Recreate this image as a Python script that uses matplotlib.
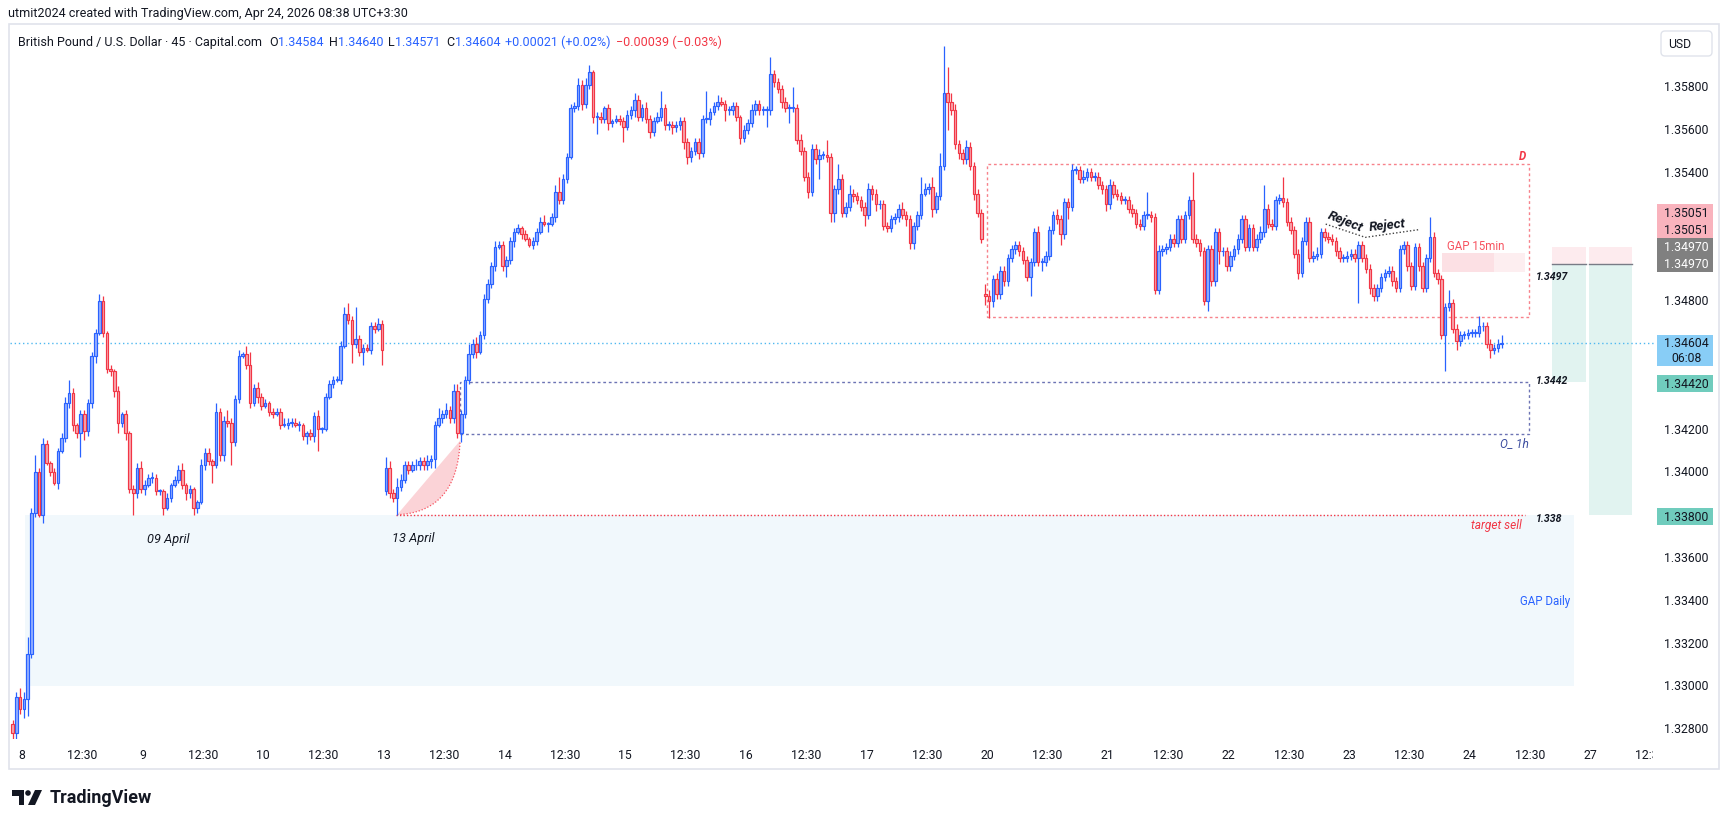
import numpy as np
import matplotlib
matplotlib.use("Agg")
import matplotlib.pyplot as plt
from matplotlib.patches import Rectangle, Polygon, Circle, FancyBboxPatch
from matplotlib.transforms import Affine2D, blended_transform_factory, Bbox, TransformedBbox

plt.rcParams['font.family'] = ['Roboto', 'DejaVu Sans']

W, H = 1728, 829

# GBP/USD 45 min bars (Apr 7 late -> Apr 24 morning)
# closes in pips above 1.3000, open = previous close except after gaps
closes = [
    278, 295, 289, 294, 315, 381, 400, 380, 413, 404,
    400, 395, 410, 416, 432, 437, 422, 418, 427, 419,
    432, 454, 465, 480, 465, 448, 447, 438, 423, 427,
    418, 392, 390, 402, 392, 394, 397, 397, 391, 391,
    383, 388, 394, 396, 401, 394, 390, 392, 383, 386,
    403, 409, 405, 403, 428, 408, 424, 423, 414, 434,
    454, 455, 450, 432, 439, 435, 431, 432, 428, 427,
    428, 422, 422, 423, 423, 422, 422, 417, 418, 417,
    426, 420, 420, 435, 441, 443, 443, 459, 474, 471,
    460, 462, 456, 458, 457, 468, 467, 469, 457, 402,
    390, 388, 393, 396, 403, 401, 403, 403, 405, 403,
    405, 406, 422, 425, 427, 429, 425, 438, 418, 427,
    443, 455, 460, 456, 464, 481, 488, 496, 505, 506,
    496, 499, 508, 512, 514, 511, 509, 506, 508, 512,
    517, 516, 516, 519, 531, 527, 537, 547, 570, 571,
    581, 572, 581, 587, 566, 566, 565, 570, 563, 564,
    565, 564, 561, 567, 569, 574, 566, 570, 565, 559,
    564, 566, 570, 562, 562, 561, 562, 564, 554, 547,
    550, 554, 549, 565, 565, 568, 571, 573, 572, 569,
    569, 571, 566, 556, 560, 563, 569, 572, 569, 569,
    569, 586, 582, 579, 573, 570, 570, 570, 555, 550,
    538, 531, 551, 546, 548, 548, 547, 521, 532, 537,
    521, 524, 530, 529, 527, 524, 520, 532, 530, 525,
    525, 515, 514, 518, 519, 523, 520, 518, 507, 515,
    520, 530, 532, 533, 523, 529, 543, 577, 573, 569,
    553, 549, 546, 552, 543, 530, 521, 509, 482, 480,
    490, 483, 494, 489, 500, 504, 506, 503, 499, 491,
    498, 512, 498, 498, 501, 513, 520, 518, 511, 526,
    524, 541, 541, 537, 538, 540, 538, 538, 534, 532,
    525, 534, 530, 529, 527, 527, 523, 521, 516, 515,
    520, 520, 519, 485, 503, 504, 505, 509, 507, 518,
    509, 520, 527, 509, 507, 503, 480, 504, 489, 512,
    503, 503, 496, 501, 504, 509, 518, 505, 514, 505,
    509, 512, 523, 516, 515, 527, 528, 526, 517, 513,
    502, 493, 508, 517, 500, 501, 502, 512, 510, 509,
    508, 503, 500, 500, 501, 502, 500, 506, 500, 495,
    486, 482, 486, 491, 493, 494, 489, 486, 504, 506,
    496, 487, 505, 496, 486, 500, 510, 493, 490, 464,
    477, 479, 467, 461, 464, 464, 465, 465, 465, 468,
    468, 460, 457, 458, 460, 460,
]
upper_wick = [
    2, 2, 4, 3, 8, 2, 8, 2, 3, 2,
    1, 2, 1, 2, 3, 6, 2, 1, 2, 2,
    2, 2, 2, 3, 2, 1, 2, 1, 2, 1,
    2, 1, 2, 2, 3, 2, 2, 3, 2, 1,
    1, 2, 1, 2, 2, 3, 1, 2, 1, 1,
    3, 2, 2, 1, 4, 2, 2, 5, 2, 2,
    3, 1, 4, 6, 2, 3, 2, 2, 1, 2,
    2, 2, 3, 2, 2, 2, 2, 1, 1, 2,
    2, 3, 1, 2, 2, 2, 2, 2, 3, 5,
    2, 15, 2, 2, 2, 2, 2, 3, 2, 5,
    3, 2, 4, 3, 2, 2, 2, 3, 2, 2,
    3, 2, 2, 5, 2, 3, 2, 3, 3, 2,
    2, 5, 2, 3, 2, 2, 2, 2, 3, 2,
    2, 2, 2, 2, 2, 1, 2, 1, 2, 2,
    2, 3, 1, 2, 3, 7, 2, 2, 2, 2,
    3, 2, 3, 3, 1, 2, 2, 1, 2, 1,
    2, 2, 2, 2, 2, 3, 2, 2, 3, 2,
    2, 2, 8, 2, 2, 2, 2, 2, 2, 2,
    2, 2, 2, 2, 13, 2, 2, 3, 2, 2,
    2, 2, 2, 1, 2, 2, 3, 2, 2, 2,
    2, 8, 2, 2, 2, 2, 2, 10, 2, 3,
    2, 2, 2, 2, 3, 2, 7, 2, 2, 7,
    2, 2, 4, 2, 2, 2, 2, 3, 2, 2,
    2, 2, 2, 2, 2, 2, 3, 2, 2, 2,
    2, 8, 3, 2, 5, 2, 6, 22, 12, 4,
    3, 2, 2, 3, 2, 2, 2, 2, 5, 3,
    2, 3, 2, 2, 2, 2, 2, 2, 2, 2,
    2, 2, 3, 2, 2, 2, 2, 3, 2, 2,
    2, 3, 2, 2, 3, 2, 2, 2, 2, 2,
    2, 3, 2, 2, 2, 2, 2, 2, 2, 2,
    2, 11, 2, 2, 3, 2, 2, 2, 2, 2,
    2, 2, 2, 13, 2, 2, 2, 2, 2, 2,
    2, 2, 2, 2, 2, 2, 2, 2, 2, 2,
    2, 3, 11, 2, 2, 2, 2, 10, 2, 2,
    2, 2, 2, 2, 2, 2, 3, 2, 2, 2,
    2, 2, 2, 2, 2, 2, 2, 2, 2, 2,
    2, 2, 2, 2, 2, 2, 2, 2, 2, 2,
    2, 2, 2, 2, 2, 2, 9, 2, 2, 2,
    2, 6, 2, 2, 2, 2, 2, 2, 2, 5,
    2, 2, 2, 2, 2, 4,
]
lower_wick = [
    4, 3, 2, 4, 8, 2, 2, 1, 4, 1,
    2, 1, 3, 1, 2, 2, 3, 2, 11, 4,
    2, 2, 3, 1, 2, 2, 2, 3, 5, 2,
    3, 2, 10, 2, 2, 3, 1, 2, 2, 2,
    3, 1, 2, 1, 1, 2, 3, 2, 3, 2,
    1, 2, 2, 8, 1, 3, 3, 2, 11, 2,
    2, 1, 2, 2, 1, 3, 2, 1, 2, 2,
    1, 2, 1, 2, 2, 1, 3, 2, 4, 2,
    3, 10, 2, 1, 1, 2, 1, 2, 1, 2,
    9, 2, 2, 6, 1, 2, 2, 1, 7, 2,
    2, 2, 8, 2, 1, 2, 1, 2, 2, 2,
    2, 3, 4, 1, 2, 2, 2, 2, 2, 4,
    2, 2, 2, 3, 1, 2, 2, 2, 2, 1,
    2, 5, 2, 3, 1, 2, 1, 1, 2, 2,
    1, 1, 4, 1, 2, 2, 2, 2, 1, 2,
    2, 3, 2, 2, 3, 8, 2, 2, 3, 2,
    1, 2, 7, 1, 2, 3, 2, 2, 2, 3,
    2, 1, 2, 2, 2, 3, 2, 2, 3, 3,
    2, 2, 3, 2, 2, 3, 1, 2, 1, 5,
    2, 2, 2, 3, 2, 2, 2, 2, 2, 2,
    8, 2, 2, 2, 3, 2, 7, 2, 2, 2,
    2, 3, 2, 2, 9, 2, 2, 4, 4, 2,
    2, 2, 2, 3, 2, 2, 5, 2, 3, 3,
    2, 2, 2, 2, 2, 2, 2, 3, 3, 3,
    2, 2, 1, 2, 4, 2, 2, 2, 13, 2,
    2, 3, 2, 2, 2, 3, 2, 2, 4, 8,
    3, 2, 2, 2, 2, 2, 2, 2, 2, 2,
    9, 2, 2, 4, 2, 2, 2, 2, 5, 2,
    6, 2, 2, 2, 2, 2, 2, 2, 2, 2,
    3, 2, 2, 2, 2, 2, 2, 2, 2, 2,
    2, 2, 2, 2, 2, 2, 2, 2, 2, 2,
    2, 2, 2, 2, 2, 2, 2, 5, 2, 2,
    6, 2, 2, 2, 2, 2, 2, 2, 2, 2,
    2, 2, 2, 2, 2, 2, 2, 2, 2, 2,
    2, 3, 2, 2, 2, 2, 2, 2, 2, 2,
    2, 2, 2, 2, 2, 2, 2, 21, 2, 2,
    3, 2, 2, 2, 2, 2, 2, 2, 2, 2,
    2, 2, 2, 2, 2, 2, 2, 2, 2, 2,
    17, 2, 2, 4, 2, 2, 2, 2, 2, 2,
    2, 2, 4, 2, 2, 2,
]
gap_opens = {0: 282, 99: 391, 258: 483}

day_labels = ['8', '9', '10', '13', '14', '15', '16', '17', '20', '21', '22', '23', '24', '27']
price_ticks = [1.358, 1.356, 1.354, 1.348, 1.342, 1.340, 1.336, 1.334, 1.332, 1.330, 1.328]
last_price = 1.34604
header_ohlc = [('O', '1.34584'), ('H', '1.34640'), ('L', '1.34571'), ('C', '1.34604')]

BLUE = '#2962ff'
RED = '#f23645'
TXT = '#131722'

# ---- build ohlc
x = np.arange(len(closes))
c = 1.3 + np.array(closes) / 1e4
o = np.r_[c[0], c[:-1]]
for k, v in gap_opens.items():
    o[k] = 1.3 + v / 1e4
hi = np.maximum(o, c) + np.array(upper_wick) / 1e4
lo = np.minimum(o, c) - np.array(lower_wick) / 1e4
up = c >= o

fig = plt.figure(figsize=(W / 100, H / 100), dpi=100)
fig.patch.set_facecolor('white')
ax = fig.add_axes([10 / W, 89 / H, 1645 / W, 715 / H])
ax.set_xlim(-0.69, 435.65)
ax.set_ylim(1.327519, 1.360930)
for s in ax.spines.values():
    s.set_visible(False)
ax.set_xticks([])
ax.set_yticks([])

px = Affine2D().scale(1, -1).translate(0, H)   # top-left pixel coords
ax_y = blended_transform_factory(ax.transAxes, ax.transData)
x_ax = blended_transform_factory(ax.transData, ax.transAxes)
ppx = (1.360930 - 1.327519) / 715   # price per pixel

# ---- zones behind candles
ax.add_patch(Rectangle((3.3, 1.3300), 414.2 - 3.3, 0.0080, facecolor='#f1f8fc', edgecolor='none', zorder=0))
ax.text(413.1, 1.33397, 'GAP Daily', color='#2962ff', fontsize=8.3, ha='right', va='center', zorder=1)

ax.add_patch(Rectangle((379.1, 1.34932), 401.1 - 379.1, 0.0009, facecolor='#fdeef0', edgecolor='none', zorder=0))
ax.add_patch(Rectangle((379.1, 1.34932), 393.0 - 379.1, 0.0009, facecolor='#fce0e4', edgecolor='none', zorder=0))
ax.text(380.4, 1.3506, 'GAP 15min', color='#f7525f', fontsize=8.3, ha='left', va='center', zorder=1)

# position tool columns
for xa, xb, bot in [(408.2, 417.3, 1.3442), (418.1, 429.6, 1.3380)]:
    ax.add_patch(Rectangle((xa, 1.3497), xb - xa, 0.0008, facecolor='#fdebee', edgecolor='none', zorder=0))
    ax.add_patch(Rectangle((xa, bot), xb - xa, 1.3497 - bot, facecolor='#e1f3f0', edgecolor='none', zorder=0))
    ax.plot([xa, xb], [1.3497, 1.3497], color='#787b86', lw=1.0, zorder=1)

# fib-like fill from 13 April low
t = np.linspace(0, 1, 40)
p0, p1, p2 = np.array([102, 1.3380]), np.array([118.0, 1.33812]), np.array([118.7, 1.34146])
curve = ((1 - t) ** 2)[:, None] * p0 + (2 * (1 - t) * t)[:, None] * p1 + (t ** 2)[:, None] * p2
ax.add_patch(Polygon(curve, closed=True, facecolor='#fbd3d7', edgecolor='none', zorder=1))
ax.plot(curve[:, 0], curve[:, 1], color='#f7525f', lw=0.9, ls=(0, (1, 1.5)), zorder=1)

# ---- candles
for m, edge, face in [(up, BLUE, '#94b0ff'), (~up, RED, '#f8a7ae')]:
    ax.vlines(x[m], lo[m], hi[m], color=edge, lw=0.9, zorder=3)
    ax.bar(x[m], np.maximum(np.abs(c[m] - o[m]), 0.00004), bottom=np.minimum(o[m], c[m]),
           width=0.68, color=face, edgecolor=edge, linewidth=0.85, zorder=4)

# ---- lines and boxes
ax.axhline(last_price, color='#4fb8f0', lw=1.0, ls=(0, (1, 2)), zorder=2)
ax.plot([101.7, 401.2], [1.338, 1.338], color=RED, lw=1.0, ls=(0, (1, 1.5)), zorder=2)
ax.text(400.2, 1.33752, 'target sell', color=RED, fontsize=8.6, style='italic', ha='right', va='center')
ax.text(404.1, 1.33783, '1.338', color=TXT, fontsize=7.6, style='italic', weight='bold', ha='left', va='center')

ax.add_patch(Rectangle((118.7, 1.34176), 402.2 - 118.7, 1.3442 - 1.34176, fill=False,
                       edgecolor='#6d74b4', lw=1.0, ls=(0, (2, 2)), zorder=2))
ax.text(402.2, 1.34138, 'O_ 1h', color='#3d4ea0', fontsize=8.6, style='italic', ha='right', va='center')
ax.text(404.1, 1.3443, '1.3442', color=TXT, fontsize=7.6, style='italic', weight='bold', ha='left', va='center')

ax.add_patch(Rectangle((258.5, 1.34725), 402.2 - 258.5, 1.35438 - 1.34725, fill=False,
                       edgecolor='#f7828b', lw=1.0, ls=(0, (2, 2)), zorder=2))
ax.text(401.4, 1.35478, 'D', color=RED, fontsize=8.3, style='italic', weight='bold', ha='right', va='center')
ax.text(404.1, 1.34917, '1.3497', color=TXT, fontsize=7.6, style='italic', weight='bold', ha='left', va='center')

# rejections
ax.plot([348.3, 358.8, 373.0], [1.35158, 1.35096, 1.35132], color='#444444', lw=1.0, ls=(0, (1, 1.5)), zorder=5)
ax.text(353.6, 1.35175, 'Reject', rotation=-22, fontsize=9.6, style='italic', weight='bold', color=TXT,
        ha='center', va='center', zorder=6)
ax.text(364.6, 1.35155, 'Reject', rotation=6, fontsize=9.6, style='italic', weight='bold', color=TXT,
        ha='center', va='center', zorder=6)

ax.text(41.2, 1.3369, '09 April', fontsize=9.2, style='italic', color=TXT, ha='center', va='center')
ax.text(106.3, 1.33694, '13 April', fontsize=9.2, style='italic', color=TXT, ha='center', va='center')

# ---- time axis
clip = TransformedBbox(Bbox([[0, -1], [0.999, 1]]), ax.transAxes)
for k in range(2 * len(day_labels)):
    lab = day_labels[k // 2] if k % 2 == 0 else '12:30'
    tx = ax.text(2.5 + 16 * k, -0.0215, lab, transform=x_ax, ha='center', va='center',
                 fontsize=8.8, color=TXT, clip_on=True)
    tx.set_clip_box(clip)

# ---- price axis
for p in price_ticks:
    ax.text(1.0189, p, f'{p:.5f}', transform=ax_y, ha='center', va='center', fontsize=8.8,
            color=TXT, clip_on=False)


def badge(price, dy, label, face, fg, h=17):
    yc = price + dy * ppx
    ax.add_patch(Rectangle((1.0012, yc - h / 2 * ppx), 0.0341, h * ppx, transform=ax_y,
                           facecolor=face, edgecolor='none', clip_on=False, zorder=10))
    ax.text(1.0189, yc, label, transform=ax_y, ha='center', va='center', fontsize=8.8,
            color=fg, clip_on=False, zorder=11)


badge(1.3497, 0.8, '1.34970', '#808080', 'white')
badge(1.3497, 17.8, '1.34970', '#808080', 'white')
badge(1.3497, 34.8, '1.35051', '#f9b3bd', TXT)
badge(1.3497, 51.8, '1.35051', '#f9b3bd', TXT)
ax.add_patch(Rectangle((1.0012, last_price - 23 * ppx), 0.0341, 30.7 * ppx, transform=ax_y,
                       facecolor='#88cdf6', edgecolor='none', clip_on=False, zorder=10))
ax.text(1.0189, last_price, f'{last_price:.5f}', transform=ax_y, ha='center', va='center',
        fontsize=8.8, color=TXT, clip_on=False, zorder=11)
ax.text(1.0189, last_price - 14.5 * ppx, '06:08', transform=ax_y, ha='center', va='center',
        fontsize=8.8, color=TXT, clip_on=False, zorder=11)
badge(1.3442, -1.3, '1.34420', '#70ccbd', TXT)
badge(1.3380, -1.3, '1.33800', '#70ccbd', TXT)

# ---- frame, header, logo
fig.add_artist(Rectangle((9, 25), 1710, 745, transform=px, fill=False, edgecolor='#e0e3eb', lw=1.2))
fig.add_artist(FancyBboxPatch((1661, 32), 51, 25, boxstyle='round,pad=0,rounding_size=4', transform=px,
                              facecolor='white', edgecolor='#e0e3eb', lw=1.0))
fig.text(1668, 44.5, 'USD', transform=px, fontsize=8.8, color=TXT, va='center', ha='left')

fig.text(8, 14, 'utmit2024 created with TradingView.com, Apr 24, 2026 08:38 UTC+3:30', transform=px,
         fontsize=9, color=TXT, va='center', ha='left')
fig.text(18, 42.3, 'British Pound / U.S. Dollar \u00b7 45 \u00b7 Capital.com', transform=px,
         fontsize=9, color=TXT, va='center', ha='left')

# legend values laid out one after the other
renderer = fig.canvas.get_renderer()
cur = 269.0


def seg(s, col, gap):
    global cur
    tt = fig.text(cur, 42.3, s, transform=px, fontsize=9, color=col, va='center', ha='left')
    cur += tt.get_window_extent(renderer).width + gap


for letter, val in header_ohlc:
    seg(letter, TXT, 0.5)
    seg(val, BLUE, 5)
seg('+0.00021 (+0.02%)', BLUE, 6)
seg('\u22120.00039 (\u22120.03%)', RED, 0)

fig.add_artist(Polygon([(12, 791), (24, 791), (24, 806), (19, 806), (19, 797), (12, 797)], closed=True,
                       transform=px, facecolor=TXT, edgecolor='none'))
fig.add_artist(Circle((28, 794), 2.8, transform=px, facecolor=TXT, edgecolor='none'))
fig.add_artist(Polygon([(35, 791), (42, 791), (35, 806), (28, 806)], closed=True,
                       transform=px, facecolor=TXT, edgecolor='none'))
fig.text(50, 798.5, 'TradingView', transform=px, fontsize=13, weight='bold', color=TXT, va='center', ha='left')

fig.savefig('out.png', dpi=100, facecolor='white')
